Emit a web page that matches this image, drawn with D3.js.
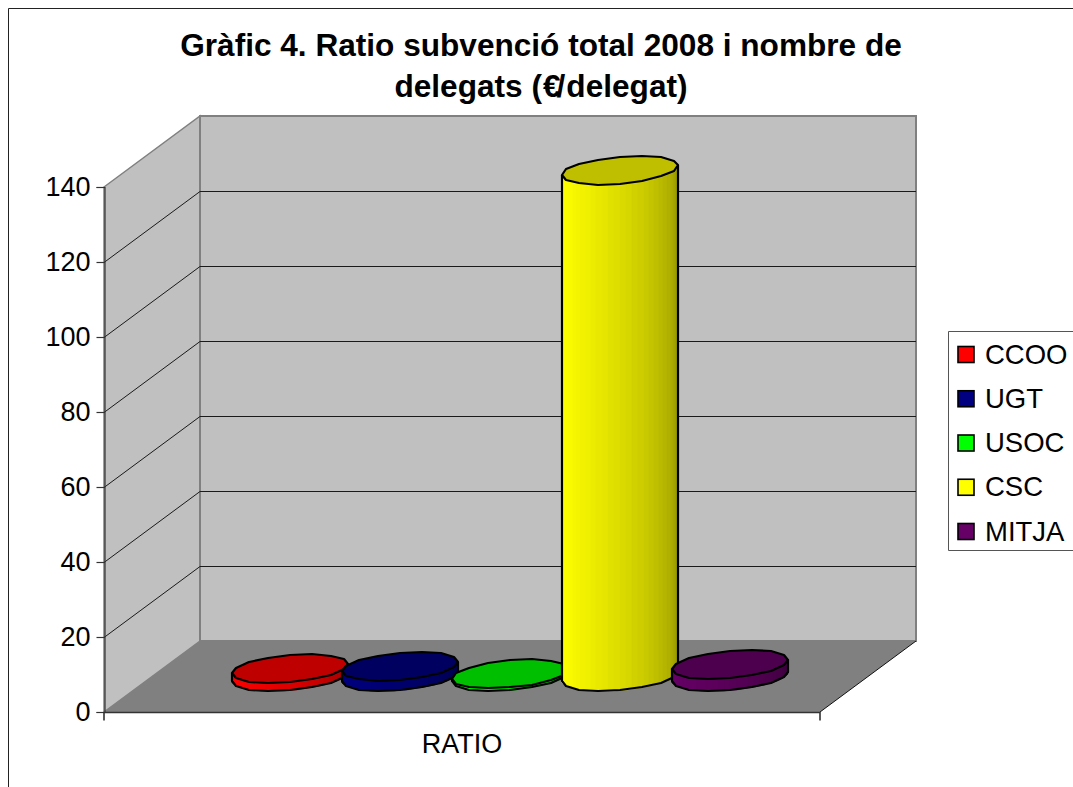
<!DOCTYPE html>
<html><head><meta charset="utf-8">
<style>html,body{margin:0;padding:0;background:#fff;overflow:hidden}svg{display:block}text{font-family:"Liberation Sans",Arial,sans-serif;fill:#000}</style>
<script src="https://cdn.jsdelivr.net/npm/d3@7/dist/d3.min.js"></script>
</head><body><svg id="c" width="1073" height="787"></svg>
<script>
const titleLines = ["Gràfic 4. Ratio subvenció total 2008 i nombre de", "delegats (€/delegat)"];
const categories = ["RATIO"];
const seriesNames = ["CCOO", "UGT", "USOC", "CSC", "MITJA"];
const seriesValues = [2.1, 2.7, 0.7, 135, 3.2];
const sideColors = ["#ff0000", "#000080", "#00ff00", "#ffff00", "#660066"];
const yTicks = [0, 20, 40, 60, 80, 100, 120, 140];

const svg = d3.select("#c");
const X0 = 104, X1 = 820, Y0 = 712, Y1 = 187, DX = 96, DY = -71;
const y = d3.scaleLinear().domain([0, 140]).range([Y0, Y1]);
const x = d3.scaleBand().domain(categories).range([X0, X1]);
const series = d3.scaleBand().domain(seriesNames)
  .range([x("RATIO") + DX / 2 + 83, x("RATIO") + x.bandwidth() + DX / 2 - 83]);

// frame
svg.append("path").attr("d", "M8.5,787V8.5H1073").attr("fill", "none").attr("stroke", "#222").attr("stroke-width", 1);

// title: the slash sits tight against the euro sign, as in the source
svg.selectAll("text.title").data(titleLines).join("text").attr("class", "title")
  .attr("x", 541).attr("y", (d, i) => 56 + i * 40.5).attr("text-anchor", "middle")
  .attr("font-size", 31.6).attr("font-weight", "bold")
  .attr("dx", d => {
    const e = d.indexOf("€");
    return e < 0 ? null : Array.from(d, (c, i) => i === e ? 1 : i === e + 1 ? -4 : i === e + 2 ? 1 : 0).join(" ");
  })
  .text(d => d);

// walls
const poly = (pts, fill, stroke, w) => svg.append("polygon").attr("points", pts.map(p => p.join(",")).join(" "))
  .attr("fill", fill).attr("stroke", stroke).attr("stroke-width", w);
poly([[X0, Y1], [X0 + DX, Y1 + DY], [X0 + DX, Y0 + DY], [X0, Y0]], "#c0c0c0", "#808080", 1.5);
poly([[X0 + DX, Y1 + DY], [X1 + DX, Y1 + DY], [X1 + DX, Y0 + DY], [X0 + DX, Y0 + DY]], "#c0c0c0", "#808080", 2);
poly([[X0, Y0], [X0 + DX, Y0 + DY], [X1 + DX, Y0 + DY], [X1, Y0]], "#808080", "none", 0);

// gridlines on both walls
yTicks.filter(t => t > 0 && t < 140).forEach(t => {
  svg.append("path").attr("fill", "none").attr("stroke", "#1a1a1a").attr("stroke-width", 1)
    .attr("d", `M${X0},${Math.round(y(t)) + .5}L${X0 + DX},${Math.round(y(t)) + DY + .5}H${X1 + DX}`);
});
svg.append("line").attr("x1", X1).attr("y1", Y0).attr("x2", X1 + DX).attr("y2", Y0 + DY)
  .attr("stroke", "#111").attr("stroke-width", 1);

// axes
const gy = svg.append("g").attr("transform", `translate(${X0 + .5},0)`)
  .call(d3.axisLeft(y).tickValues(yTicks).tickSize(8).tickPadding(6));
gy.selectAll("text").attr("font-size", 27).attr("font-family", '"Liberation Sans"').attr("fill", "#000");
gy.selectAll("line,path").attr("stroke", "#333").attr("stroke-width", 1.2);

const gx = svg.append("g").attr("transform", `translate(0,${Y0 + .5})`)
  .call(d3.axisBottom(x).tickSize(0).tickPadding(21));
gx.selectAll("text").attr("font-size", 27).attr("font-family", '"Liberation Sans"').attr("fill", "#000");
gx.select("path").attr("stroke", "#333").attr("stroke-width", 1.6).attr("d", `M${X0},8V0H${X1}V8`);

// cylinders
const halfW = series.bandwidth() / 2, hx = DX * 0.203, hy = DY * 0.203, N = 16, FINE = 60;
const th0 = Math.atan2(hx, halfW);
seriesNames.forEach((name, k) => {
  const v = seriesValues[k];
  const cx = series(name) + halfW, by = (Y0 + Y0 + DY) / 2, ty = by - (y(0) - y(v));
  const ring = (cy, n) => d3.range(n).map(i => {
    const t = th0 + i * 2 * Math.PI / n;
    return [Math.round(cx + halfW * Math.cos(t) + hx * Math.sin(t)), Math.round(cy + hy * Math.sin(t))];
  });
  const top = ring(ty, N), bot = ring(by, N), base = d3.rgb(sideColors[k]);
  const g = svg.append("g");
  const fineTop = ring(ty, FINE), fineBot = ring(by, FINE);
  const idx = d3.range(FINE / 2, FINE);
  idx.forEach((i, j) => {
    const i2 = (i + 1) % FINE, f = 1 - 0.42 * Math.pow(j / (idx.length - 1), 1.6);
    const col = d3.rgb(base.r * f, base.g * f, base.b * f).formatHex();
    g.append("polygon")
      .attr("points", [fineTop[i], fineTop[i2], fineBot[i2], fineBot[i]].map(p => p.join(",")).join(" "))
      .attr("fill", col).attr("stroke", col).attr("stroke-width", .6);
  });
  // silhouette
  const sil = [top[N / 2], ...d3.range(N / 2, N).map(i => bot[i]), bot[0], top[0]];
  g.append("polyline").attr("points", sil.map(p => p.join(",")).join(" "))
    .attr("fill", "none").attr("stroke", "#000").attr("stroke-width", 2.2).attr("stroke-linejoin", "round");
  // top
  g.append("polygon").attr("points", top.map(p => p.join(",")).join(" "))
    .attr("fill", d3.rgb(base.r * .75, base.g * .75, base.b * .75).formatHex())
    .attr("stroke", "#000").attr("stroke-width", 2.2).attr("stroke-linejoin", "round");
});

// legend
const legY = d3.scalePoint().domain(seriesNames).range([354.5, 531.5]);
svg.append("path").attr("d", "M1073,331.5H948.5V550.5H1073").attr("fill", "#fff").attr("stroke", "#555").attr("stroke-width", 1);
const li = svg.selectAll("g.leg").data(seriesNames).join("g").attr("class", "leg")
  .attr("transform", d => `translate(958,${legY(d)})`);
li.append("rect").attr("x", 0).attr("y", -8).attr("width", 16).attr("height", 16)
  .attr("fill", (d, i) => sideColors[i]).attr("stroke", "#000").attr("stroke-width", 1.6);
li.append("text").attr("x", 27).attr("y", 9).attr("font-size", 27.5).text(d => d);
</script></body></html>
